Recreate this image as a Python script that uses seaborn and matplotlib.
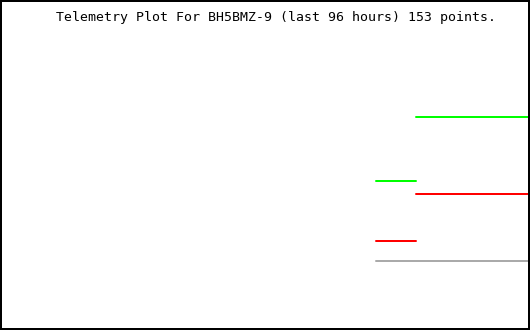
import matplotlib
matplotlib.use("Agg")
import matplotlib.pyplot as plt
import seaborn as sns
import pandas as pd

# Data: time in hours relative to now, values in arbitrary telemetry units
title = "Telemetry Plot For BH5BMZ-9 (last 96 hours) 153 points."
seg_start = [-27.9, -20.65]
seg_end = [-20.65, 0.0]
green_vals = [149, 213]
red_vals = [89, 136]
gray_start = -27.9
gray_end = 0.0
gray_val = 69

rows = []
for i, (s, e) in enumerate(zip(seg_start, seg_end)):
    rows += [("green", f"g{i}", s, green_vals[i]), ("green", f"g{i}", e, green_vals[i])]
    rows += [("red", f"r{i}", s, red_vals[i]), ("red", f"r{i}", e, red_vals[i])]
rows += [("gray", "k0", gray_start, gray_val), ("gray", "k0", gray_end, gray_val)]
df = pd.DataFrame(rows, columns=["series", "seg", "hours", "value"])

sns.set_theme(style="white")
fig = plt.figure(figsize=(5.3, 3.3), dpi=100)
ax = fig.add_axes([0, 0, 1, 1])
palette = {"green": "#00ff00", "red": "#ff0000", "gray": "#aaaaaa"}
sns.lineplot(data=df, x="hours", y="value", hue="series", units="seg",
             estimator=None, palette=palette, linewidth=1.44, legend=False, ax=ax)
ax.set_xlim(-96, 0)
ax.set_ylim(0, 330)
ax.set_xticks([])
ax.set_yticks([])
ax.set_xlabel("")
ax.set_ylabel("")
for sp in ax.spines.values():
    sp.set_visible(True)
    sp.set_color("black")
    sp.set_linewidth(2.88)
ax.text(0.52, 1 - 17 / 330, title, transform=ax.transAxes, ha="center", va="center",
        family="DejaVu Sans Mono", fontsize=9.5, color="black")
fig.savefig("out.png", dpi=100, facecolor="white")
